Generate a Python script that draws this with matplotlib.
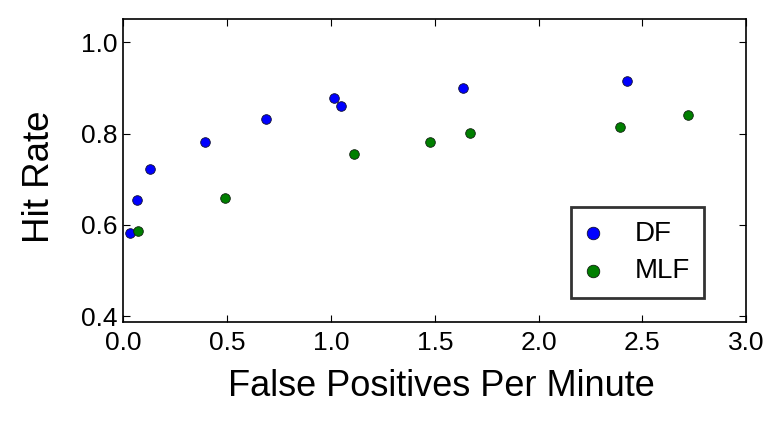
import matplotlib
matplotlib.use("Agg")
import matplotlib.pyplot as plt

plt.rcParams['font.family'] = ['Liberation Sans', 'DejaVu Sans']

df_x = [0.031, 0.066, 0.129, 0.393, 0.687, 1.013, 1.047, 1.638, 2.427]
df_y = [0.582, 0.655, 0.722, 0.781, 0.832, 0.877, 0.860, 0.899, 0.916]
mlf_x = [0.068, 0.489, 1.113, 1.475, 1.672, 2.392, 2.720]
mlf_y = [0.587, 0.658, 0.755, 0.781, 0.801, 0.814, 0.840]

xticks = [0.0, 0.5, 1.0, 1.5, 2.0, 2.5, 3.0]
yticks = [0.4, 0.6, 0.8, 1.0]

fig = plt.figure(figsize=(7.78, 4.30), dpi=100)
ax = fig.add_axes([0.1587, 0.252, 0.8003, 0.703])

ax.scatter(df_x, df_y, s=48, c='#0000ff', edgecolors='#101030', linewidths=0.6, label='DF', zorder=3)
ax.scatter(mlf_x, mlf_y, s=48, c='#007f00', edgecolors='#102010', linewidths=0.6, label='MLF', zorder=3)

ax.set_xlim(0, 3.0)
ax.set_ylim(0.388, 1.05)
ax.set_xticks(xticks)
ax.set_yticks(yticks)
ax.set_xticklabels([f"{t:.1f}" for t in xticks])
ax.set_yticklabels([f"{t:.1f}" for t in yticks])
ax.tick_params(direction='in', top=True, right=True, length=5, width=0.8,
               labelsize=19)
ax.tick_params(axis='x', pad=7)
ax.tick_params(axis='y', pad=4)
for sp in ax.spines.values():
    sp.set_linewidth(1.2)
    sp.set_color('black')

ax.set_xlabel('False Positives Per Minute', fontsize=26, labelpad=10)
ax.xaxis.label.set_x(0.511)
ax.set_ylabel('Hit Rate', fontsize=26.5)
ax.yaxis.set_label_coords(-0.107, 0.478)

leg = ax.legend(loc='lower left', bbox_to_anchor=(0.719, 0.078), scatterpoints=1,
                fontsize=20, frameon=True, fancybox=False, borderpad=0.5,
                handletextpad=1.25, labelspacing=0.42, handlelength=0.55,
                borderaxespad=0, markerscale=1.3)
leg.get_frame().set_edgecolor('black')
leg.get_frame().set_linewidth(2.0)

fig.savefig('out.png', dpi=100)
